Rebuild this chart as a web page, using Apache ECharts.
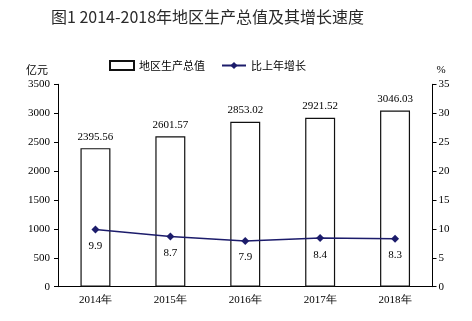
<!DOCTYPE html>
<html><head><meta charset="utf-8">
<script src="https://cdn.jsdelivr.net/npm/echarts@6/dist/echarts.min.js"></script>
<style>html,body{margin:0;padding:0;background:#fff}#c{width:472px;height:321px}</style>
</head><body><div id="c"></div>
<script>
const categories = ['2014年','2015年','2016年','2017年','2018年'];
const gdpValues = [2395.56, 2601.57, 2853.02, 2921.52, 3046.03];
const growthValues = [9.9, 8.7, 7.9, 8.4, 8.3];
const titleText = '图1 2014-2018年地区生产总值及其增长速度';
const seriesNames = ['地区生产总值', '比上年增长'];

const serif = '"Liberation Serif", "Times New Roman", serif';
const cjk = '"Noto Sans CJK SC", sans-serif';
const chart = echarts.init(document.getElementById('c'), null, {renderer:'canvas'});
chart.setOption({
  animation: false,
  backgroundColor: '#fff',
  title: {
    text: titleText, left: 46, top: 4,
    textStyle: {fontFamily: cjk, fontSize: 16, fontWeight: 'normal', color: '#2a2a2a'}
  },
  legend: {
    left: 104, top: 55, itemWidth: 24, itemHeight: 9, itemGap: 16,
    textStyle: {fontFamily: cjk, fontSize: 11, color: '#000'},
    data: [
      {name: seriesNames[0], icon: 'rect'},
      {name: seriesNames[1]}
    ]
  },
  grid: {left: 58, right: 39.5, top: 84.3, bottom: 34.3},
  xAxis: {
    type: 'category', data: categories,
    axisLine: {lineStyle: {color: '#000', width: 1}},
    axisTick: {inside: true, length: 4, lineStyle: {color: '#000'}},
    axisLabel: {fontFamily: serif, fontSize: 11, color: '#000', margin: 8}
  },
  yAxis: [
    {
      type: 'value', min: 0, max: 3500, interval: 500,
      name: '亿元', nameLocation: 'end', nameGap: 9,
      nameTextStyle: {fontFamily: cjk, fontSize: 11, color: '#000', align: 'right', padding: [0, 10, 0, 0]},
      axisLine: {show: true, lineStyle: {color: '#000'}},
      axisTick: {show: true, length: 4, lineStyle: {color: '#000'}},
      axisLabel: {fontFamily: serif, fontSize: 11, color: '#000', margin: 8, formatter: v => String(v)},
      splitLine: {show: false}
    },
    {
      type: 'value', min: 0, max: 35, interval: 5, position: 'right',
      name: '%', nameLocation: 'end', nameGap: 9,
      nameTextStyle: {fontFamily: serif, fontSize: 11, color: '#000', align: 'left', padding: [0, 0, 0, 4]},
      axisLine: {show: true, lineStyle: {color: '#000'}},
      axisTick: {show: true, length: 4, lineStyle: {color: '#000'}},
      axisLabel: {fontFamily: serif, fontSize: 11, color: '#000', margin: 6},
      splitLine: {show: false}
    }
  ],
  series: [
    {
      name: seriesNames[0], type: 'bar', data: gdpValues, barWidth: '40%',
      itemStyle: {color: '#fff', borderColor: '#111', borderWidth: 1.2},
      label: {show: true, position: 'top', distance: 6, fontFamily: serif, fontSize: 11, color: '#000'}
    },
    {
      name: seriesNames[1], type: 'line', yAxisIndex: 1, data: growthValues,
      symbol: 'diamond', symbolSize: 8,
      lineStyle: {color: '#1c1c6b', width: 1.5},
      itemStyle: {color: '#1c1c6b'},
      label: {show: true, position: 'bottom', distance: 7, fontFamily: serif, fontSize: 11, color: '#000'}
    }
  ]
});
</script></body></html>
